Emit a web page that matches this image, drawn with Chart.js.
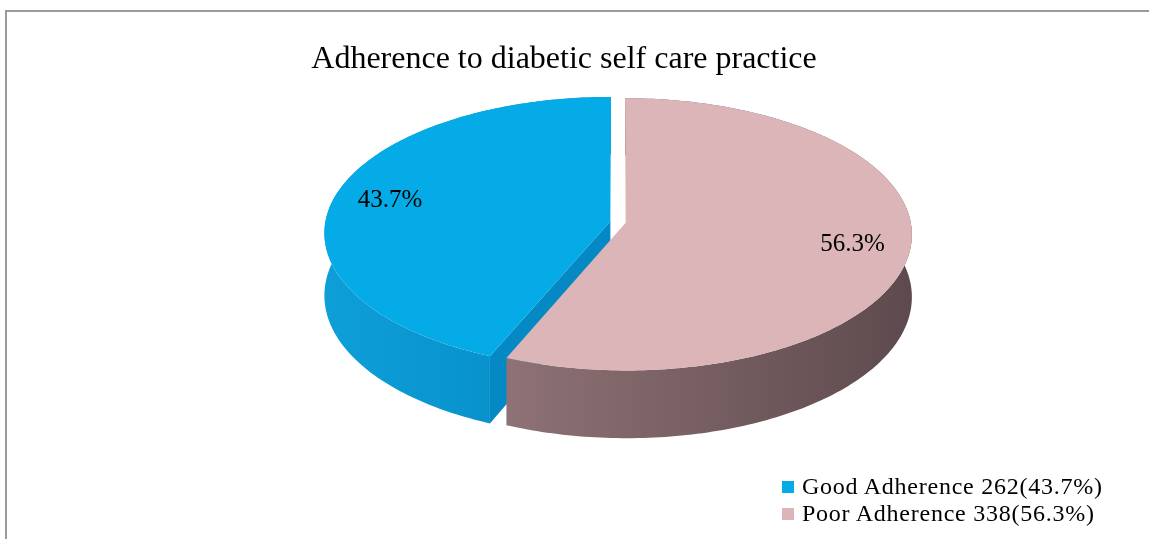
<!DOCTYPE html>
<html>
<head>
<meta charset="utf-8">
<script src="https://cdn.jsdelivr.net/npm/chart.js@4.4.1/dist/chart.umd.min.js"></script>
<style>
  html, body { margin: 0; padding: 0; background: #fff; }
  body { width: 1149px; height: 539px; position: relative; overflow: hidden; font-family: "Liberation Serif", "Times New Roman", serif; }
  #frame { position: absolute; left: 5px; top: 10px; width: 1200px; height: 600px; border: 2px solid #9a9a9a; box-sizing: border-box; }
  #chartTitle { position: absolute; left: 0; width: 1128px; top: 41px; text-align: center; font-size: 32px; line-height: 32px; color: #000; }
  #chartBox { position: absolute; left: 0; top: 0; }
  #legend { position: absolute; left: 782px; top: 473px; font-size: 24px; line-height: 27px; color: #000; letter-spacing: 0.75px; }
  .item { display: flex; align-items: center; white-space: nowrap; }
  .swatch { width: 12px; height: 12px; margin-right: 8px; flex: none; }
</style>
</head>
<body>
<div id="frame"></div>
<canvas id="chartBox" width="1149" height="539"></canvas>
<div id="chartTitle">Adherence to diabetic self care practice</div>
<div id="legend"></div>

<script>
// data
const categories = ['Good Adherence', 'Poor Adherence'];
const counts = [262, 338];
const percentLabels = ['43.7%', '56.3%'];

// colours: top face, then side faces (light -> dark)
const sliceColors = ['#05ABE6', '#DBB5B7'];
const sideColors = [['#0E9FD8', '#0489C4'], ['#8E7275', '#5E4A4E']];

const total = counts.reduce((a, b) => a + b, 0);

// legend, built from the arrays above
document.getElementById('legend').innerHTML = categories.map((c, i) =>
  `<div class="item"><span class="swatch" style="background:${sliceColors[i]}"></span>${c} ${counts[i]}(${percentLabels[i]})</div>`
).join('');

// draws the arcs Chart.js laid out as a tilted, extruded pie
const pie3d = {
  id: 'pie3d',
  beforeDatasetsDraw(chart, args, opts) {
    const ctx = chart.ctx;
    const arcs = chart.getDatasetMeta(0).data;
    const { rx, ry, depth, persp, labelAt } = opts;
    const step = Math.PI / 180;

    const geo = arcs.map(arc => {
      const R = arc.outerRadius;
      const mid = (arc.startAngle + arc.endAngle) / 2;
      const shift = (arc.options.offset / 4) / R;
      const ou = shift * Math.cos(mid), ov = shift * Math.sin(mid);
      const proj = (u, v, h) => {
        const f = 1 / (1 - persp * v);
        return [arc.x + rx * u * f, arc.y + ry * v * f + h * f];
      };
      const angles = [];
      const n = Math.max(2, Math.ceil((arc.endAngle - arc.startAngle) / step));
      for (let k = 0; k <= n; k++) angles.push(arc.startAngle + (arc.endAngle - arc.startAngle) * k / n);
      return { arc, mid, ou, ov, proj, angles };
    });

    const poly = (pts, fill) => {
      ctx.beginPath();
      pts.forEach((p, k) => k ? ctx.lineTo(p[0], p[1]) : ctx.moveTo(p[0], p[1]));
      ctx.closePath();
      ctx.fillStyle = fill;
      ctx.fill();
    };

    ctx.save();

    // cut faces that look towards the viewer
    geo.forEach((g, i) => {
      [[g.arc.startAngle, -1], [g.arc.endAngle, 1]].forEach(([a, dir]) => {
        if (Math.sin(a + dir * Math.PI / 2) <= 0.02) return;
        const eu = Math.cos(a) + g.ou, ev = Math.sin(a) + g.ov;
        poly([g.proj(g.ou, g.ov, 0), g.proj(eu, ev, 0), g.proj(eu, ev, depth), g.proj(g.ou, g.ov, depth)], sideColors[i][1]);
      });
    });

    // outer walls
    geo.forEach((g, i) => {
      const top = g.angles.map(a => g.proj(Math.cos(a) + g.ou, Math.sin(a) + g.ov, 0));
      const bot = g.angles.map(a => g.proj(Math.cos(a) + g.ou, Math.sin(a) + g.ov, depth)).reverse();
      const xs = top.map(p => p[0]);
      const grad = ctx.createLinearGradient(Math.min(...xs), 0, Math.max(...xs), 0);
      grad.addColorStop(0, sideColors[i][0]);
      grad.addColorStop(1, sideColors[i][1]);
      poly(top.concat(bot), grad);
    });

    // top faces
    geo.forEach((g, i) => {
      const pts = [g.proj(g.ou, g.ov, 0)].concat(g.angles.map(a => g.proj(Math.cos(a) + g.ou, Math.sin(a) + g.ov, 0)));
      poly(pts, sliceColors[i]);
    });

    // percentage labels
    ctx.fillStyle = '#000';
    ctx.font = '25px "Liberation Serif", "Times New Roman", serif';
    ctx.textAlign = 'center';
    ctx.textBaseline = 'middle';
    geo.forEach((g, i) => {
      const p = g.proj(labelAt * Math.cos(g.mid) + g.ou, labelAt * Math.sin(g.mid) + g.ov, 0);
      ctx.fillText(percentLabels[i], p[0], p[1]);
    });

    ctx.restore();
    return false;
  }
};

new Chart(document.getElementById('chartBox'), {
  type: 'pie',
  data: {
    labels: categories,
    datasets: [{
      data: counts,
      backgroundColor: sliceColors,
      borderWidth: 0,
      offset: 21
    }]
  },
  options: {
    responsive: false,
    animation: false,
    events: [],
    rotation: -360 * counts[0] / total,
    layout: { padding: { left: 100, right: 13, top: 20, bottom: 115 } },
    plugins: {
      legend: { display: false },
      title: { display: false },
      tooltip: { enabled: false },
      pie3d: { rx: 285, ry: 135, depth: 62, persp: 0.085, labelAt: 0.8 }
    }
  },
  plugins: [pie3d]
});
</script>
</body>
</html>
